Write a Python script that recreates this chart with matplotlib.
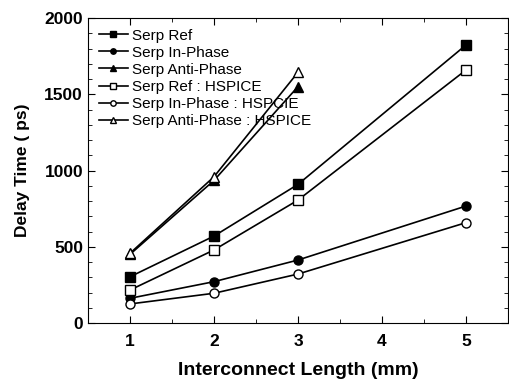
import matplotlib
matplotlib.use('Agg')
import matplotlib.pyplot as plt
from matplotlib.ticker import MultipleLocator

plt.rcParams['font.family'] = ['Liberation Sans', 'DejaVu Sans']

# longueur d'interconnexion (mm)
longueur = [1, 2, 3, 5]
longueur_anti = [1, 2, 3]

serp_ref = [303, 570, 909, 1823]
serp_in = [162, 271, 413, 767]
serp_anti = [450, 935, 1550]
serp_ref_hs = [216, 479, 806, 1659]
serp_in_hs = [125, 195, 321, 658]
serp_anti_hs = [457, 959, 1644]

fig = plt.figure(figsize=(5.1, 3.92), dpi=100)
ax = fig.add_axes([0.1725, 0.176, 0.8235, 0.778])

kw = dict(color='black', lw=1.2, markersize=6.5, markeredgewidth=1.0)
ax.plot(longueur, serp_ref, marker='s', mfc='black', label='Serp Ref', **kw)
ax.plot(longueur, serp_in, marker='o', mfc='black', label='Serp In-Phase', **kw)
ax.plot(longueur_anti, serp_anti, marker='^', mfc='black', label='Serp Anti-Phase', **kw)
ax.plot(longueur, serp_ref_hs, marker='s', mfc='white', label='Serp Ref : HSPICE', **kw)
ax.plot(longueur, serp_in_hs, marker='o', mfc='white', label='Serp In-Phase : HSPCIE', **kw)
ax.plot(longueur_anti, serp_anti_hs, marker='^', mfc='white', label='Serp Anti-Phase : HSPICE', **kw)

ax.set_xlim(0.5, 5.5)
ax.set_ylim(0, 2000)
ax.xaxis.set_major_locator(MultipleLocator(1))
ax.xaxis.set_minor_locator(MultipleLocator(0.5))
ax.yaxis.set_major_locator(MultipleLocator(500))
ax.yaxis.set_minor_locator(MultipleLocator(100))
ax.tick_params(which='both', direction='in', top=True, right=True)
ax.tick_params(which='major', length=5, labelsize=12.5)
ax.tick_params(which='minor', length=3)
ax.tick_params(axis='x', which='major', pad=8)
for lab in ax.get_xticklabels() + ax.get_yticklabels():
    lab.set_fontweight('bold')

ax.set_xlabel('Interconnect Length (mm)', fontsize=14, fontweight='bold', labelpad=9)
ax.set_ylabel('Delay Time ( ps)', fontsize=12.5, fontweight='bold', labelpad=10)

ax.legend(loc='upper left', frameon=False, fontsize=11, handlelength=1.9,
          handletextpad=0.3, labelspacing=0.2, borderaxespad=0.4, borderpad=0.3,
          markerscale=0.6)

fig.savefig('out.png', dpi=100)
